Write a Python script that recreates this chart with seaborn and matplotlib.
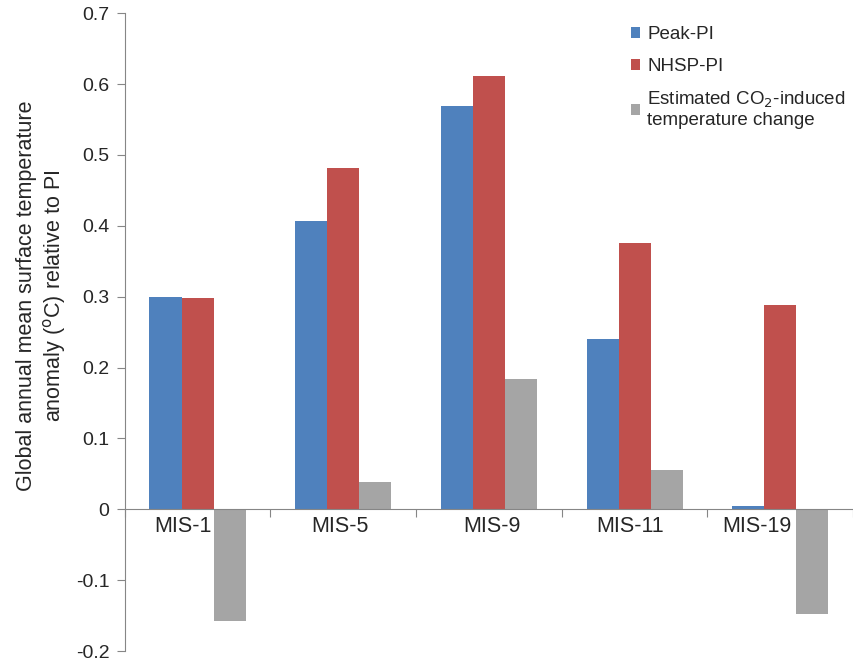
import matplotlib
matplotlib.use('Agg')
import matplotlib.pyplot as plt
import seaborn as sns
import pandas as pd

periods = ['MIS-1', 'MIS-5', 'MIS-9', 'MIS-11', 'MIS-19']
peak_pi = [0.300, 0.407, 0.569, 0.241, 0.004]
nhsp_pi = [0.298, 0.481, 0.612, 0.376, 0.289]
co2_change = [-0.158, 0.038, 0.184, 0.056, -0.148]
series_names = ['Peak-PI', 'NHSP-PI', 'Estimated CO$_2$-induced\ntemperature change']
label_shift = [-0.10, -0.02, 0.02, -0.03, -0.16]

sns.set_style('white')
plt.rcParams['font.family'] = ['Liberation Sans', 'DejaVu Sans']

df = pd.DataFrame({
    'period': periods * 3,
    'value': peak_pi + nhsp_pi + co2_change,
    'series': [series_names[0]] * 5 + [series_names[1]] * 5 + [series_names[2]] * 5,
})

fig = plt.figure(figsize=(8.54, 6.63), dpi=100)
ax = fig.add_axes([0.146, 0.018, 0.853, 0.962])

sns.barplot(data=df, x='period', y='value', hue='series', order=periods,
            hue_order=series_names, palette=['#4F81BD', '#C0504D', '#A5A5A5'],
            width=0.66, saturation=1, ax=ax, errorbar=None, linewidth=0)

ax.set_xlim(-0.5, 4.5)
ax.set_ylim(-0.2, 0.7)
ax.set_yticks([-0.2, -0.1, 0, 0.1, 0.2, 0.3, 0.4, 0.5, 0.6, 0.7])
ax.set_yticklabels(['-0.2', '-0.1', '0', '0.1', '0.2', '0.3', '0.4', '0.5', '0.6', '0.7'])
ax.tick_params(axis='y', direction='out', length=6, width=0.8, color='#868686',
               labelsize=14, pad=5, left=True)

# x axis sits at zero, ticks at category boundaries
ax.spines['bottom'].set_position(('data', 0))
ax.spines['top'].set_visible(False)
ax.spines['right'].set_visible(False)
for s in ['left', 'bottom']:
    ax.spines[s].set_color('#868686')
    ax.spines[s].set_linewidth(0.8)
ax.set_xticks([-0.5, 0.5, 1.5, 2.5, 3.5, 4.5])
ax.set_xticklabels([])
ax.tick_params(axis='x', direction='out', length=6, width=0.8, color='#868686', bottom=True)
for i, p in enumerate(periods):
    ax.text(i + label_shift[i], -0.010, p, ha='center', va='top', fontsize=15.5)

ax.set_xlabel('')
ax.set_ylabel('Global annual mean surface temperature\nanomaly ($^{\\rm o}$C) relative to PI',
              fontsize=15.5)
ax.yaxis.set_label_coords(-0.078, 0.557)

ax.legend(loc='upper left', bbox_to_anchor=(0.672, 1.006), frameon=False, fontsize=13.5,
          handlelength=0.5, handleheight=0.5, handletextpad=0.35, labelspacing=0.78)

plt.savefig('out.png', dpi=100)
plt.close()
